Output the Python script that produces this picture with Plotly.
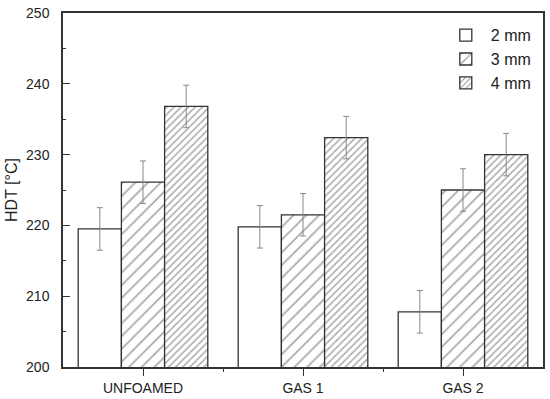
import plotly.graph_objects as go

categories = ["UNFOAMED", "GAS 1", "GAS 2"]
series_names = ["2 mm", "3 mm", "4 mm"]
hdt_2mm = [219.5, 219.8, 207.8]
hdt_3mm = [226.1, 221.5, 225.0]
hdt_4mm = [236.8, 232.4, 230.0]
err_2mm = [3.0, 3.0, 3.0]
err_3mm = [3.0, 3.0, 3.0]
err_4mm = [3.0, 3.0, 3.0]

values = [hdt_2mm, hdt_3mm, hdt_4mm]
errors = [err_2mm, err_3mm, err_4mm]
patterns = [dict(shape=""), dict(shape="/", size=9, solidity=0.2, fgcolor="#555", bgcolor="white"),
            dict(shape="/", size=5, solidity=0.3, fgcolor="#555", bgcolor="white")]

xpos = list(range(len(categories)))
fig = go.Figure()
for name, v, e, p in zip(series_names, values, errors, patterns):
    fig.add_trace(go.Bar(
        x=xpos, y=v, name=name,
        marker=dict(color="white", line=dict(color="#333", width=1.3), pattern=p),
        error_y=dict(type="data", array=e, color="#888", thickness=1, width=3),
    ))

fig.update_layout(
    width=550, height=399,
    margin=dict(l=63, r=7, t=13, b=32),
    paper_bgcolor="white", plot_bgcolor="white",
    barmode="group", bargap=0.19, bargroupgap=0,
    font=dict(family="Liberation Sans, Arial, sans-serif", size=14, color="#222"),
    legend=dict(x=0.985, y=0.985, xanchor="right", yanchor="top", bgcolor="rgba(0,0,0,0)",
                font=dict(size=16), tracegroupgap=0, itemwidth=40),
    showlegend=True,
)
fig.update_xaxes(
    range=[-0.5, 2.5], tickmode="array", tickvals=xpos, ticktext=categories,
    ticks="outside", ticklen=7, tickcolor="#333", tickwidth=1.3, automargin=False,
    minor=dict(tickmode="array", tickvals=[0.5, 1.5], ticks="outside", ticklen=3, tickcolor="#333", tickwidth=1.3),
    showline=True, linecolor="#333", linewidth=1.5, mirror=True, showgrid=False, zeroline=False,
)
fig.update_yaxes(
    range=[200, 250], dtick=10, title=dict(text="HDT [°C]", standoff=4, font=dict(size=16)), automargin=False,
    ticks="inside", ticklen=7, tickcolor="#333", tickwidth=1.3, ticklabelstandoff=9,
    minor=dict(dtick=5, ticks="inside", ticklen=3, tickcolor="#333", tickwidth=1.3),
    showline=True, linecolor="#333", linewidth=1.5, mirror=True, showgrid=False, zeroline=False,
)
fig.write_html("out.html", config={"displayModeBar": False},
               post_script="document.body.style.margin='0';document.body.style.padding='0';")
